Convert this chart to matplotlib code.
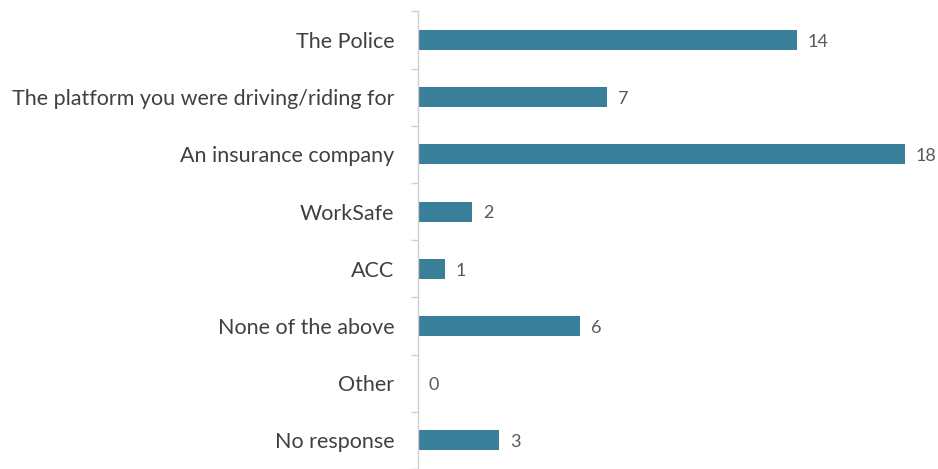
import matplotlib
matplotlib.use("Agg")
import matplotlib.pyplot as plt
import numpy as np

categories = [
    "The Police",
    "The platform you were driving/riding for",
    "An insurance company",
    "WorkSafe",
    "ACC",
    "None of the above",
    "Other",
    "No response",
]
counts = [14, 7, 18, 2, 1, 6, 0, 3]

plt.rcParams["font.family"] = ["Lato", "DejaVu Sans"]

fig = plt.figure(figsize=(9.38, 4.69), dpi=100)
ax = fig.add_axes([418 / 938, 0.0, (932 - 418) / 938, 1 - 11.4 / 469])

y = np.arange(len(categories))
ax.barh(y, counts, height=0.35, color="#3a7f99")
ax.set_xlim(0, 19)
ax.set_ylim(len(categories) - 0.5, -0.5)

ax.set_yticks(y)
ax.set_yticklabels(categories, fontsize=15.5, color="#404040")
ax.tick_params(axis="y", which="major", length=0, pad=17)
ax.set_yticks(np.arange(-0.5, len(categories) + 0.5, 1), minor=True)
ax.tick_params(axis="y", which="minor", length=5, color="#d0d0d0", width=1)
ax.set_xticks([])

for s in ["top", "right", "bottom"]:
    ax.spines[s].set_visible(False)
ax.spines["left"].set_color("#d0d0d0")
ax.spines["left"].set_linewidth(1)

for yi, v in zip(y, counts):
    ax.text(v + 0.4, yi + 0.03, str(v), va="center", ha="left", fontsize=13,
            color="#595959")

fig.savefig("out.png", dpi=100)
